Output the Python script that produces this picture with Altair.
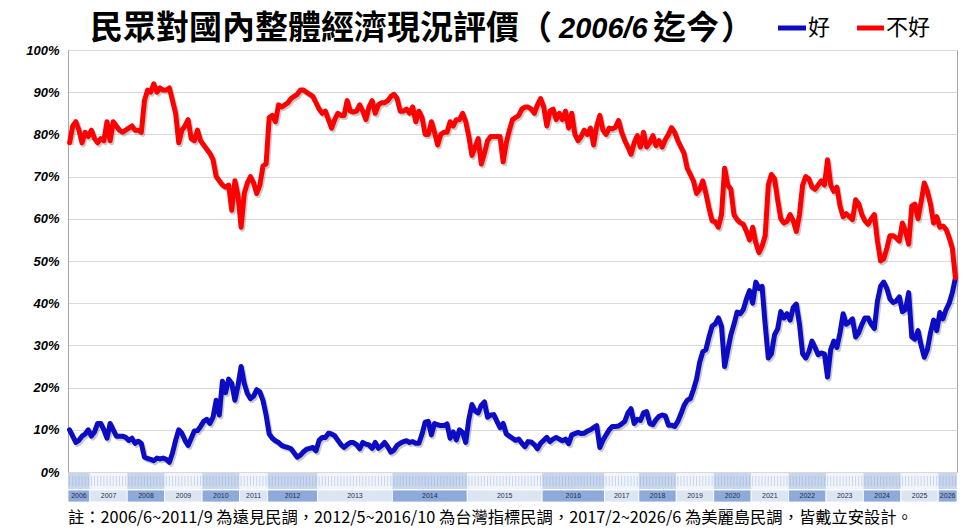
import altair as alt
import pandas as pd

# ---------------- data ----------------
years = [2006, 2007, 2008, 2009, 2010, 2011, 2012, 2013, 2014, 2015, 2016,
         2017, 2018, 2019, 2020, 2021, 2022, 2023, 2024, 2025, 2026]
year_counts = [7, 12, 12, 12, 12, 9, 16, 24, 24, 24, 20,
               11, 12, 12, 12, 12, 12, 12, 12, 12, 6]

# 不好 (bad) – 遠見 2006/6~2011/9 (monthly)
bad_gvm = [78, 82, 83, 81, 78, 80.5, 79.5,
           81, 79, 78, 79, 78.5, 83, 78.5, 83, 82, 81, 80.5, 81,
           81.5, 82, 81, 81, 80.5, 88, 90.5, 90, 92, 90, 91, 90.5,
           90.5, 91, 88, 85, 78, 81, 82, 83.5, 79, 78.5, 81, 78.5,
           77.5, 76.5, 75.5, 74, 70, 69, 68, 67.5, 68, 62, 69, 65.5,
           58, 66, 68.5, 70, 68.5, 66, 68, 72.5, 73]
# 不好 – 台灣指標 2012/5~2016/10 (twice a month)
bad_tisr = [84, 84.5, 83, 87, 86.5, 87, 87.5, 88.5, 89, 89.5, 90.5, 90.5, 90, 89.5, 89, 87.5,
            86, 85, 85.5, 83.5, 81.5, 83.5, 85, 84.5, 84.5, 88, 85.5, 85.3,
            85.5, 87, 85.5, 83.5, 86.5, 88, 85, 87, 87.5, 87.5, 88, 89,
            89.5, 88.5, 85.5, 85.5, 86, 85, 86.5, 83, 85.5, 84, 80, 80,
            83, 80.5, 77.5, 80, 80.5, 80.5, 83, 82, 83.5, 83.5, 85, 83,
            79.5, 75, 77, 79, 73, 75.5, 78.5, 79.5, 79.5, 79.5, 79.5, 73.5,
            78, 81, 83.5, 84, 84.5, 86, 86.5, 86.5, 86, 85, 87, 88.5,
            86.5, 82, 85.5, 86, 83.5, 85, 83.5, 85.5, 81.5, 85,
            80, 78.5, 79.5, 81, 80, 81.5, 77.5, 82, 84.5, 81]
# 不好 – 美麗島 2017/2~2026/6 (monthly)
bad_mei = [80, 81.5, 81.3, 81.7, 83.3, 80.5, 78.5, 77, 75.3, 78, 79.7,
           77, 80.5, 77, 78, 79.7, 77.3, 78.5, 77, 78.8, 80, 81.6, 80.5,
           78.5, 77, 75.5, 72, 70.5, 69, 66, 67, 69, 66, 62.5, 59.5,
           59.3, 58, 61, 72, 68, 67, 61, 59.8, 59.1, 58.7, 57, 55,
           58, 54.3, 52, 53.5, 56, 68, 70.5, 69.5, 64.5, 60, 59, 59.4,
           61, 59.5, 57, 61, 68, 70, 69.5, 67.5, 67, 68, 69, 68,
           74, 68, 66.5, 67.5, 63, 60.5, 61.2, 60.5, 59.8, 64.5, 63.5, 61,
           59.5, 58.7, 60, 61, 54.7, 50, 50.5, 53, 56, 56, 55.5, 54.7,
           59, 57, 54, 63, 63.5, 60, 64, 68.5, 66.5, 63.5, 59, 60.5,
           58, 58.3, 57.5, 55.5, 53, 46]

# 好 (good)
good_gvm = [10, 8.5, 7, 7.5, 8.5, 9, 10,
            8.5, 9.5, 11.5, 11.5, 10, 8, 11.5, 10, 8.5, 8.5, 8.5, 8.2,
            7.5, 8, 6.8, 7.3, 6.8, 3.5, 3.2, 3, 2.7, 3.3, 3.1, 3.3,
            3, 2.3, 4.5, 7.5, 10, 9.2, 7.5, 6.3, 8, 9.7, 9.8, 10.8,
            12, 12.5, 11.5, 13, 17, 13.5, 21.5, 18.8, 22, 21, 17, 20.5,
            25, 21, 18.6, 17.4, 18, 19.5, 19, 17, 13.5]
good_tisr = [9, 8, 7.4, 7, 6.3, 6, 5.8, 5.5, 4.5, 3.5, 4, 4.8, 5.4, 5.6, 5.8, 5,
             7.5, 8.2, 8.2, 9.2, 9, 8.6, 7.5, 6.5, 5.8, 6.5, 7, 7,
             6.5, 5.5, 7, 6.6, 6.4, 5.6, 7, 5.6, 6.2, 7, 6, 4.7,
             5.2, 6.3, 6.8, 7.2, 7.4, 7, 7.2, 6.8, 6.8, 9, 11.8, 12,
             8.8, 11.5, 11.2, 11, 11, 11.4, 8, 9.5, 7.6, 10, 9.4, 7,
             12.5, 16, 14.5, 14, 15.8, 16.6, 13, 13.5, 13.6, 12, 10.5, 11.5,
             9, 8.5, 8, 7.5, 7.8, 6.8, 6, 7.2, 7.1, 6.5, 5.5, 6.8,
             7.5, 8.2, 7.2, 7.8, 8.2, 7.8, 7.4, 7.8, 6.7, 8.8,
             9.1, 9.4, 9.1, 9.2, 9.7, 10, 10.5, 11, 5.8, 7.5]
good_mei = [8.8, 10, 10.8, 10.8, 10.9, 11.4, 12, 14, 15, 11.5, 12.5,
            12.2, 14, 14.3, 11.5, 11.2, 12.4, 13.2, 13.5, 13.3, 11.1, 11.1, 10.8,
            12, 13.8, 15.8, 17, 17.4, 19.5, 22, 26, 28.5, 29, 32, 34.6,
            35.1, 36.5, 34.5, 25, 28.8, 32.5, 35, 37.9, 37.5, 38.5, 41, 43,
            40, 45, 43.5, 44, 35, 27, 28, 32.5, 33.9, 38, 36.5, 37.5,
            36, 39, 39.8, 35, 28, 27, 28.5, 31, 29.5, 27.8, 28.2, 28,
            22.5, 29, 31, 29.5, 33, 37.5, 35, 35.5, 36.3, 32, 33, 35,
            36.5, 36.5, 35, 34, 40.5, 44, 45, 43.5, 41, 40.2, 40.5, 41.5,
            38, 38.5, 42.5, 32, 31.5, 33.5, 30, 27.2, 29, 33, 36, 33.5,
            37.8, 36.3, 38.5, 40, 42.5, 46]

y_ticks = list(range(0, 101, 10))

title_main = "民眾對國內整體經濟現況評價（"
title_date = "2006/6"
title_tail = "迄今"
title_close = "）"
legend_labels = ["好", "不好"]
footnote = "註：2006/6~2011/9 為遠見民調，2012/5~2016/10 為台灣指標民調，2017/2~2026/6 為美麗島民調，皆戴立安設計。"

BLUE = "#0c0cc4"
RED = "#ff0000"

# ---------------- build tables ----------------
good = good_gvm + good_tisr + good_mei
bad = bad_gvm + bad_tisr + bad_mei
N = sum(year_counts)

good_df = pd.DataFrame({"idx": list(range(len(good))), "value": good})
bad_df = pd.DataFrame({"idx": list(range(len(bad))), "value": bad})

band_rows = []
start = 0
for k, (yr, n) in enumerate(zip(years, year_counts)):
    dark = (k % 2 == 0)
    band_rows.append({
        "start": start - 0.5, "end": start + n - 0.5, "mid": start + (n - 1) / 2,
        "label": str(yr),
        "yfill": "#8eaadb" if dark else "#dce6f2",
        "mfill": "#c9d7ee" if dark else "#f1f5fb",
    })
    start += n
band_df = pd.DataFrame(band_rows)
tick_df = pd.DataFrame({"idx": list(range(N))})
one = pd.DataFrame({"a": [0]})

W, H = 889, 422
xs = alt.Scale(domain=[-0.5, N - 0.5], nice=False, zero=False)
ys = alt.Scale(domain=[0, 100], nice=False, zero=True)

y_enc = alt.Y("value:Q", scale=ys, axis=alt.Axis(
    values=y_ticks, labelExpr="datum.value + '%'", grid=True, gridColor="#d9d9d9",
    gridWidth=1, ticks=False, domain=True, domainColor="#a6a6a6",
    labelFontSize=13, labelFontStyle="italic", labelFontWeight="bold",
    labelFont="Liberation Sans", labelColor="#000000", labelPadding=9, title=None))
x_enc = alt.X("idx:Q", scale=xs, axis=None)

def line(df, color, shadow=False):
    if shadow:
        m = alt.Chart(df).mark_line(color="#666666", opacity=0.35, strokeWidth=5,
                                    strokeJoin="round", xOffset=1.5, yOffset=2)
    else:
        m = alt.Chart(df).mark_line(color=color, strokeWidth=5, strokeJoin="round",
                                    strokeCap="round")
    return m.encode(x=x_enc, y=y_enc)

layers = [
    line(good_df, BLUE, True), line(bad_df, RED, True),
    line(good_df, BLUE), line(bad_df, RED),
]

# bottom category bands
month_band = alt.Chart(band_df).mark_rect().encode(
    x=alt.X("start:Q", scale=xs, axis=None), x2="end:Q",
    y=alt.value(423), y2=alt.value(439), color=alt.Color("mfill:N", scale=None))
month_ticks = alt.Chart(tick_df).mark_rule(color="#7f9ccc", strokeWidth=0.6, opacity=0.6).encode(
    x=alt.X("idx:Q", scale=xs, axis=None), y=alt.value(426), y2=alt.value(436))
year_band = alt.Chart(band_df).mark_rect(stroke="white", strokeWidth=0.8).encode(
    x=alt.X("start:Q", scale=xs, axis=None), x2="end:Q",
    y=alt.value(440), y2=alt.value(452), color=alt.Color("yfill:N", scale=None))
year_text = alt.Chart(band_df).mark_text(fontSize=7, font="Liberation Sans", color="#1f2f4f").encode(
    x=alt.X("mid:Q", scale=xs, axis=None), y=alt.value(446), text="label:N")
layers += [month_band, month_ticks, year_band, year_text]

def txt(s, x, y, size, color="#000000", weight="normal", style="normal",
        font="Noto Sans CJK TC"):
    return alt.Chart(one).mark_text(text=s, align="left", baseline="middle", fontSize=size,
                                    fontWeight=weight, fontStyle=style, font=font,
                                    color=color).encode(
        x=alt.value(x), y=alt.value(y))

# title
layers.append(txt(title_main, 22, -21, 33, weight="bold"))
layers.append(txt(title_date, 491, -21, 29, weight="bold", style="italic", font="Liberation Sans"))
layers.append(txt(title_tail, 585, -21, 33, weight="bold"))
layers.append(txt(title_close, 653, -21, 33, weight="bold"))

# legend
leg_blue = alt.Chart(one).mark_rule(color=BLUE, strokeWidth=5).encode(
    x=alt.value(710), x2=alt.value(738), y=alt.value(-22))
leg_red = alt.Chart(one).mark_rule(color=RED, strokeWidth=5).encode(
    x=alt.value(789), x2=alt.value(816), y=alt.value(-22))
layers += [leg_blue, leg_red,
           txt(legend_labels[0], 740, -22, 22),
           txt(legend_labels[1], 818, -22, 22)]

# footnote
layers.append(txt(footnote, 0, 468, 16.3))

chart = alt.layer(*layers).properties(
    width=W, height=H,
    padding={"left": 60, "top": 42, "right": 10, "bottom": 60},
    autosize=alt.AutoSizeParams(type="none"),
    background="white",
).configure_view(stroke="#a6a6a6", strokeWidth=1)

chart.save("out.html", embed_options={"renderer": "svg", "actions": False})
